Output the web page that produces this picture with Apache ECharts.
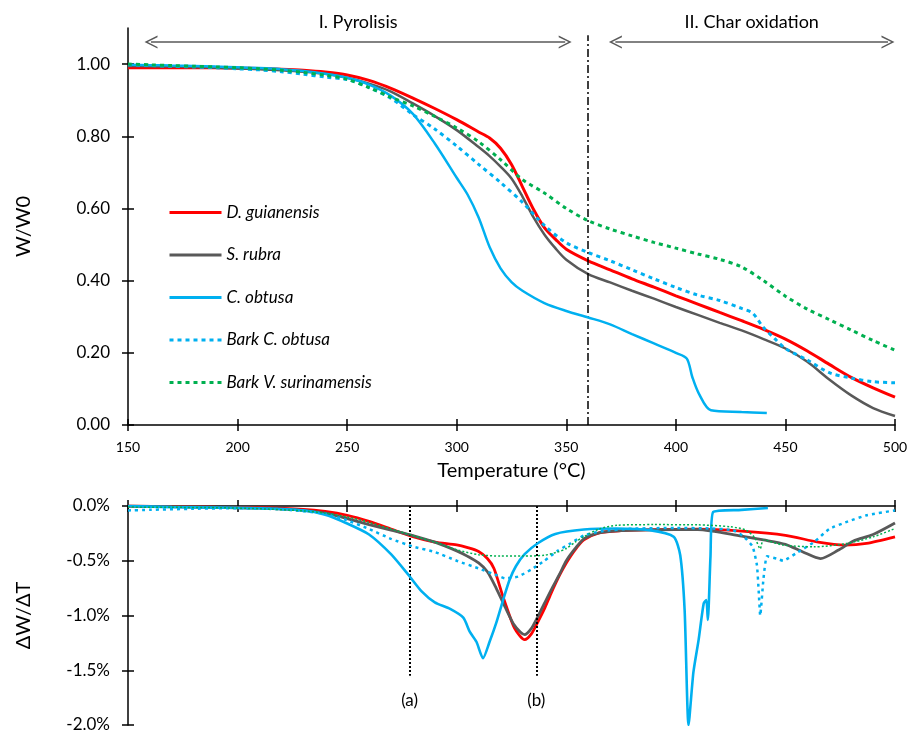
<!DOCTYPE html>
<html><head><meta charset="utf-8">
<script src="https://cdn.jsdelivr.net/npm/echarts@6/dist/echarts.min.js"></script>
<style>html,body{margin:0;padding:0;background:#fff}#c{width:911px;height:737px}</style>
</head><body><div id="c"></div>
<script>
// ---------- Series names ----------
const seriesNames = ['D. guianensis', 'S. rubra', 'C. obtusa', 'Bark C. obtusa', 'Bark V. surinamensis'];

// ---------- Top chart: W/W0 vs temperature ----------
const tempA = [150,160,170,180,190,200,210,220,230,240,250,260,270,280,290,300,310,315,320,325,330,335,340,345,350,360,370,380,390,400,410,420,430,440,450,460,470,480,490,500];
const tgGuianensis = [0.99,0.99,0.99,0.99,0.99,0.989,0.988,0.986,0.983,0.978,0.97,0.955,0.933,0.906,0.877,0.846,0.812,0.795,0.767,0.722,0.66,0.598,0.547,0.515,0.487,0.455,0.43,0.405,0.382,0.358,0.335,0.312,0.289,0.265,0.238,0.205,0.168,0.132,0.103,0.077];
const tgRubra = [0.995,0.994,0.993,0.992,0.99,0.988,0.986,0.983,0.979,0.973,0.962,0.946,0.924,0.891,0.856,0.817,0.77,0.745,0.716,0.683,0.633,0.576,0.528,0.49,0.458,0.418,0.395,0.372,0.35,0.327,0.305,0.283,0.262,0.238,0.212,0.175,0.126,0.082,0.047,0.025];
const tempC = [150,160,170,180,190,200,210,220,230,240,250,260,270,280,290,300,305,310,315,320,325,330,340,350,360,370,380,390,400,405,407.5,410.5,416,430,441.5];
const tgObtusa = [0.998,0.997,0.996,0.995,0.993,0.991,0.989,0.986,0.981,0.973,0.962,0.943,0.912,0.862,0.78,0.685,0.638,0.575,0.493,0.434,0.396,0.372,0.338,0.316,0.298,0.279,0.252,0.226,0.2,0.184,0.133,0.087,0.041,0.036,0.033];
const tempB = [150,160,170,180,190,200,210,220,230,240,250,260,270,280,290,300,310,320,330,340,350,360,370,380,390,400,410,420,430,435,440,445,450,460,470,480,490,500];
const tgBarkObtusa = [0.998,0.996,0.994,0.992,0.99,0.987,0.984,0.979,0.972,0.964,0.957,0.935,0.905,0.86,0.82,0.773,0.722,0.672,0.617,0.553,0.505,0.478,0.455,0.43,0.405,0.381,0.36,0.345,0.323,0.31,0.27,0.24,0.212,0.18,0.145,0.13,0.12,0.117];
const tempV = [150,160,170,180,190,200,210,220,230,240,250,260,270,280,290,300,310,320,330,340,350,360,370,380,390,400,410,420,430,440,450,460,470,480,490,500];
const tgBarkSurinam = [1.0,0.998,0.996,0.994,0.992,0.99,0.987,0.983,0.977,0.969,0.958,0.935,0.908,0.884,0.855,0.823,0.785,0.735,0.68,0.643,0.6,0.566,0.543,0.524,0.506,0.49,0.474,0.459,0.438,0.4,0.357,0.321,0.292,0.263,0.234,0.207];

// ---------- Bottom chart: dW/dT (%) ----------
const tdD = [150,170,190,210,230,240,250,260,270,280,290,300,305,310,314,317,321,326,329,331,334,337,340,343,347,350,354,358,365,375,390,410,430,450,465,477,487,500];
const dtgGuianensis = [0,-0.005,-0.01,-0.015,-0.03,-0.05,-0.085,-0.14,-0.21,-0.28,-0.33,-0.355,-0.38,-0.415,-0.48,-0.57,-0.82,-1.1,-1.19,-1.22,-1.17,-1.06,-0.94,-0.8,-0.63,-0.52,-0.4,-0.31,-0.245,-0.225,-0.215,-0.212,-0.23,-0.268,-0.33,-0.357,-0.342,-0.282];
const tdS = [150,170,190,210,230,240,250,260,270,280,290,300,305,310,314,318,322,326,329,331,334,337,340,343,347,350,354,358,365,375,390,410,430,440,450,458,466,474,481,490,500];
const dtgRubra = [0,-0.005,-0.012,-0.02,-0.04,-0.065,-0.115,-0.17,-0.22,-0.27,-0.33,-0.41,-0.46,-0.52,-0.6,-0.75,-0.92,-1.08,-1.15,-1.175,-1.12,-1.01,-0.89,-0.77,-0.62,-0.5,-0.39,-0.3,-0.245,-0.225,-0.218,-0.215,-0.275,-0.31,-0.35,-0.42,-0.48,-0.405,-0.32,-0.26,-0.155];
const tdC = [150,170,190,210,230,240,250,260,270,278,284,290,297,303,306,309,312,315,318,321,324,327,331,337,345,358,373,388,399,402,404,405.8,408,410.4,412.7,413.9,414.6,415.8,417,430,442];
const dtgObtusa = [0,-0.01,-0.015,-0.02,-0.04,-0.08,-0.16,-0.26,-0.44,-0.63,-0.78,-0.88,-0.94,-1.02,-1.15,-1.24,-1.39,-1.24,-1.07,-0.87,-0.68,-0.55,-0.44,-0.34,-0.255,-0.215,-0.205,-0.22,-0.28,-0.45,-0.95,-2.0,-1.52,-1.22,-0.89,-0.86,-1.04,-0.46,-0.055,-0.035,-0.018];
const tdB = [150,160,180,200,220,240,250,260,270,280,290,300,310,318,322,328,334,340,346,352,358,366,380,400,415,426,431,435,437,437.8,438.5,440,441.6,446,449,455,463,470,478,487,500];
const dtgBarkObtusa = [-0.04,-0.035,-0.025,-0.02,-0.03,-0.07,-0.13,-0.21,-0.3,-0.37,-0.42,-0.5,-0.57,-0.63,-0.66,-0.645,-0.58,-0.5,-0.41,-0.34,-0.27,-0.23,-0.207,-0.2,-0.205,-0.22,-0.28,-0.37,-0.54,-0.78,-1.0,-0.66,-0.46,-0.48,-0.5,-0.43,-0.33,-0.21,-0.145,-0.085,-0.04];
const tdV = [150,170,190,210,230,240,250,260,270,280,290,300,310,320,330,340,346,350,354,358,365,373,390,410,425,432,436,438.5,440,449,463,478,490,500];
const dtgBarkSurinam = [-0.01,-0.012,-0.015,-0.025,-0.045,-0.065,-0.1,-0.15,-0.21,-0.27,-0.33,-0.4,-0.445,-0.457,-0.457,-0.45,-0.42,-0.388,-0.33,-0.28,-0.21,-0.176,-0.17,-0.172,-0.19,-0.22,-0.29,-0.39,-0.31,-0.357,-0.373,-0.342,-0.282,-0.206];

// ---------- Axis ticks & annotations ----------
const tempMin = 150, tempMax = 500, tempStep = 50;
const tgTicks = [0, 0.2, 0.4, 0.6, 0.8, 1.0];
const phaseBoundary = 360;
const pyroArrow = [160.5, 349.5];
const charArrow = [372.4, 496.8];
const arrowLevel = 1.061;
const phaseLabels = ['I. Pyrolisis', 'II. Char oxidation'];
const markA = 278.5, markB = 336.3, markDepth = -1.55;

const FONT = 'Lato, "Open Sans", sans-serif';
const colors = ['#FF0000', '#595959', '#00B0F0', '#00B0F0', '#00B050'];
const zip = (xs, ys) => xs.map((x, i) => [x, ys[i]]);
const CHEV = 'path://M0,12L7,0L14,12L12.25,12L7,3L1.75,12Z';

const chart = echarts.init(document.getElementById('c'), null, {renderer: 'canvas'});

const axisBlack = {lineStyle: {color: '#000', width: 1.5}};
const tickOut = {show: true, length: 6, lineStyle: {color: '#000', width: 1.5}};
const tickIn = {show: true, inside: true, length: 6, lineStyle: {color: '#000', width: 1.5}};

const xBase = {type: 'value', min: tempMin, max: tempMax, interval: tempStep, splitLine: {show: false}};

const option = {
  animation: false,
  backgroundColor: '#fff',
  textStyle: {fontFamily: FONT},
  grid: [
    {left: 128, right: 16, top: 28, bottom: 312},
    {left: 128, right: 16, top: 506, bottom: 12}
  ],
  legend: {
    orient: 'vertical', left: 163, top: 199,
    itemWidth: 52, itemHeight: 18, itemGap: 25.5,
    selectedMode: false,
    itemStyle: {opacity: 0, borderWidth: 0},
    lineStyle: {width: 3},
    textStyle: {fontSize: 17, fontStyle: 'italic', color: '#000', fontFamily: FONT},
    data: seriesNames
  },
  xAxis: [
    Object.assign({}, xBase, {gridIndex: 0, position: 'bottom', axisLine: Object.assign({onZero: false}, axisBlack), axisTick: tickOut,
      axisLabel: {fontSize: 14, color: '#000', margin: 15, fontFamily: FONT},
      name: 'Temperature (°C)', nameLocation: 'middle', nameGap: 36,
      nameTextStyle: {fontSize: 20, color: '#000', fontFamily: FONT}}),
    Object.assign({}, xBase, {gridIndex: 0, position: 'bottom', axisLine: {show: false, onZero: false}, axisTick: tickIn, axisLabel: {show: false}}),
    Object.assign({}, xBase, {gridIndex: 1, position: 'top', axisLine: Object.assign({onZero: false}, axisBlack), axisTick: tickOut, axisLabel: {show: false}}),
    Object.assign({}, xBase, {gridIndex: 1, position: 'top', axisLine: {show: false, onZero: false}, axisTick: tickIn, axisLabel: {show: false}})
  ],
  yAxis: [
    {type: 'value', gridIndex: 0, position: 'left', min: 0, max: 1.1, splitLine: {show: false},
      axisLine: Object.assign({onZero: false}, axisBlack),
      axisTick: Object.assign({customValues: tgTicks}, tickOut),
      axisLabel: {customValues: tgTicks, fontSize: 17, color: '#000', margin: 18, fontFamily: FONT, formatter: v => v.toFixed(2)},
      name: 'W/W0', nameLocation: 'middle', nameRotate: 90, nameGap: 94,
      nameTextStyle: {fontSize: 20, color: '#000', fontFamily: FONT}},
    {type: 'value', gridIndex: 0, position: 'left', min: 0, max: 1.1, splitLine: {show: false},
      axisLine: {show: false, onZero: false},
      axisTick: Object.assign({customValues: tgTicks}, tickIn), axisLabel: {show: false}},
    {type: 'value', gridIndex: 1, position: 'left', min: -2, max: 0, interval: 0.5, splitLine: {show: false},
      axisLine: Object.assign({onZero: false}, axisBlack), axisTick: tickOut,
      axisLabel: {fontSize: 17, color: '#000', margin: 18, fontFamily: FONT, formatter: v => v.toFixed(1) + '%'},
      name: 'ΔW/ΔT', nameLocation: 'middle', nameRotate: 90, nameGap: 94,
      nameTextStyle: {fontSize: 20, color: '#000', fontFamily: FONT}},
    {type: 'value', gridIndex: 1, position: 'left', min: -2, max: 0, interval: 0.5, splitLine: {show: false},
      axisLine: {show: false, onZero: false}, axisTick: tickIn, axisLabel: {show: false}}
  ],
  series: []
};

const tgSets = [
  [tempA, tgGuianensis, 3, 'solid'],
  [tempA, tgRubra, 2.5, 'solid'],
  [tempC, tgObtusa, 2.5, 'solid'],
  [tempB, tgBarkObtusa, 3, [4, 4]],
  [tempV, tgBarkSurinam, 3, [4, 4]]
];
tgSets.forEach((s, i) => {
  option.series.push({
    name: seriesNames[i], type: 'line', xAxisIndex: 0, yAxisIndex: 0,
    data: zip(s[0], s[1]), symbol: 'none', smooth: 0.3, z: 3 + i,
    lineStyle: {color: colors[i], width: s[2], type: s[3], cap: 'butt'},
    itemStyle: {color: colors[i]}
  });
});

const dtgSets = [
  [tdD, dtgGuianensis, 2.8, 'solid', 0.25],
  [tdS, dtgRubra, 2.8, 'solid', 0.25],
  [tdC, dtgObtusa, 2.6, 'solid', 0.22],
  [tdB, dtgBarkObtusa, 2.5, [3, 4], 0.15],
  [tdV, dtgBarkSurinam, 1.5, [2, 2], 0.25]
];
dtgSets.forEach((s, i) => {
  option.series.push({
    name: seriesNames[i], type: 'line', xAxisIndex: 2, yAxisIndex: 2,
    data: zip(s[0], s[1]), symbol: 'none', smooth: s[4], z: 3 + i,
    lineStyle: {color: colors[i], width: s[2], type: s[3], cap: 'butt'},
    itemStyle: {color: colors[i]}
  });
});

const phaseLabel = (txt) => ({show: true, position: 'insideMiddleTop', formatter: txt, distance: 11,
  color: '#000', fontSize: 18, fontFamily: FONT});
const arrowStyle = {color: '#595959', width: 1.5, type: 'solid'};

option.series[0].markLine = {
  silent: true, animation: false, symbol: 'none',
  data: [
    [{coord: [phaseBoundary, 0], lineStyle: {color: '#000', width: 1.5, type: [8, 3, 2, 3]}, label: {show: false}},
     {coord: [phaseBoundary, 1.08]}],
    [{coord: [pyroArrow[0], arrowLevel], symbol: CHEV, symbolSize: 13, lineStyle: arrowStyle, label: phaseLabel(phaseLabels[0])},
     {coord: [pyroArrow[1], arrowLevel], symbol: CHEV, symbolSize: 13}],
    [{coord: [charArrow[0], arrowLevel], symbol: CHEV, symbolSize: 13, lineStyle: arrowStyle, label: phaseLabel(phaseLabels[1])},
     {coord: [charArrow[1], arrowLevel], symbol: CHEV, symbolSize: 13}]
  ]
};

const dotLabel = (txt) => ({show: true, position: 'end', formatter: txt, distance: 16,
  color: '#000', fontSize: 17, fontFamily: FONT});
const dotStyle = {color: '#000', width: 2, type: [2, 2]};
option.series[5].markLine = {
  silent: true, animation: false, symbol: 'none',
  data: [
    [{coord: [markA, 0], lineStyle: dotStyle, label: dotLabel('(a)')}, {coord: [markA, markDepth]}],
    [{coord: [markB, 0], lineStyle: dotStyle, label: dotLabel('(b)')}, {coord: [markB, markDepth]}]
  ]
};

chart.setOption(option);
</script>
</body></html>
